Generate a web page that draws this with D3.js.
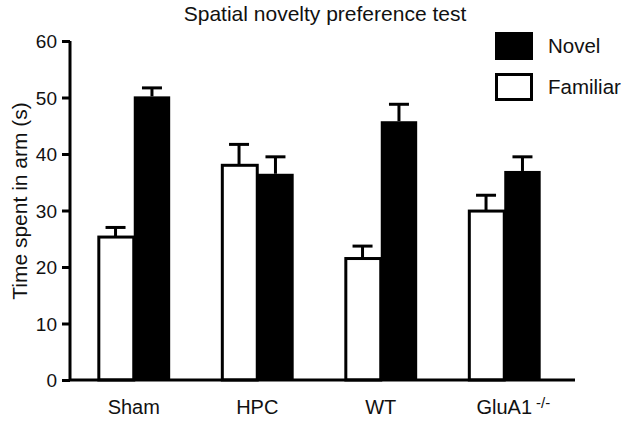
<!DOCTYPE html>
<html>
<head>
<meta charset="utf-8">
<script src="https://cdn.jsdelivr.net/npm/d3@7"></script>
<style>
  html, body { margin: 0; padding: 0; background: #fff; }
  svg { display: block; font-family: "Liberation Sans", Arial, Helvetica, sans-serif; }
</style>
</head>
<body>
<svg id="chart" width="623" height="422"></svg>
<script>
const categories = ["Sham", "HPC", "WT", "GluA1"];
const familiar = [25.3, 38.0, 21.5, 29.9];
const familiarErr = [1.7, 3.7, 2.2, 2.8];
const novel = [50.2, 36.5, 45.8, 37.0];
const novelErr = [1.5, 3.0, 3.0, 2.5];
const seriesNames = ["Familiar", "Novel"];
const yTicks = [0, 10, 20, 30, 40, 50, 60];
const title = "Spatial novelty preference test";
const yTitle = "Time spent in arm (s)";

const svg = d3.select("#chart");

const x0 = d3.scaleBand().domain(categories).range([72, 566])
  .paddingInner(0.41).paddingOuter(0.205);
const x1 = d3.scaleBand().domain(seriesNames).range([0, x0.bandwidth()]);
const y = d3.scaleLinear().domain([0, 60]).range([380, 41]);

const axisX = 70;
const sw = 3;
const FF = "Liberation Sans, Arial, sans-serif";

// title
svg.append("text").attr("x", 325).attr("y", 21).attr("text-anchor", "middle")
  .attr("font-size", 21).attr("fill", "#111").text(title);

// y axis title
svg.append("text").attr("transform", "translate(27,201) rotate(-90)")
  .attr("text-anchor", "middle").attr("font-size", 21).attr("fill", "#111").text(yTitle);

// bars
const rows = categories.map((c, i) => ({
  c,
  bars: [
    { s: "Familiar", v: familiar[i], e: familiarErr[i] },
    { s: "Novel", v: novel[i], e: novelErr[i] }
  ]
}));

const g = svg.append("g");
rows.forEach(r => {
  r.bars.forEach(b => {
    const bx = x0(r.c) + x1(b.s);
    const bw = x1.bandwidth();
    const cx = bx + bw / 2;
    g.append("line").attr("x1", cx).attr("x2", cx)
      .attr("y1", y(b.v)).attr("y2", y(b.v + b.e))
      .attr("stroke", "#000").attr("stroke-width", sw);
    g.append("line").attr("x1", cx - 10).attr("x2", cx + 10)
      .attr("y1", y(b.v + b.e)).attr("y2", y(b.v + b.e))
      .attr("stroke", "#000").attr("stroke-width", sw);
    if (b.s === "Novel") {
      g.append("rect").attr("x", bx).attr("y", y(b.v))
        .attr("width", bw).attr("height", y(0) - y(b.v)).attr("fill", "#000");
    } else {
      g.append("rect").attr("x", bx + 1.5).attr("y", y(b.v))
        .attr("width", bw - 1.5).attr("height", y(0) - y(b.v))
        .attr("fill", "#fff").attr("stroke", "#000").attr("stroke-width", sw);
    }
  });
});

// y axis
const yAxis = d3.axisLeft(y).tickValues(yTicks).tickSize(8).tickPadding(5);
const ya = svg.append("g").attr("transform", `translate(${axisX},0)`).call(yAxis);
ya.select(".domain").attr("d", `M0,${y(60)}V${y(0)}`).attr("stroke", "#000").attr("stroke-width", sw);
ya.selectAll(".tick line").attr("stroke", "#000").attr("stroke-width", sw);
ya.selectAll(".tick text").attr("font-size", 19).attr("fill", "#111")
  .attr("font-family", FF).attr("dy", "0.36em");

// x axis
const xAxis = d3.axisBottom(x0).tickSize(0).tickPadding(25).tickFormat(d => d);
const xa = svg.append("g").attr("transform", `translate(0,${y(0)})`).call(xAxis);
xa.select(".domain").attr("d", `M${axisX},0H575`).attr("stroke", "#000").attr("stroke-width", sw);
xa.selectAll(".tick text").attr("font-size", 20).attr("fill", "#111")
  .attr("font-family", FF).attr("dy", "0.71em")
  .attr("y", 20);
// superscript on GluA1
xa.selectAll(".tick").filter(d => d === "GluA1").each(function () {
  const t = d3.select(this).select("text");
  const bb = t.node().getBBox();
  d3.select(this).append("text").attr("x", bb.x + bb.width + 4).attr("y", 28)
    .attr("font-size", 15).attr("fill", "#111").attr("text-anchor", "start")
    .attr("font-family", FF).text("-/-");
});

// legend
const legend = [
  { s: "Novel", y0: 32, fill: "#000" },
  { s: "Familiar", y0: 73, fill: "#fff" }
];
legend.forEach(l => {
  if (l.fill === "#000") {
    svg.append("rect").attr("x", 495).attr("y", l.y0).attr("width", 38).attr("height", 28).attr("fill", "#000");
  } else {
    svg.append("rect").attr("x", 496.5).attr("y", l.y0 + 1.5).attr("width", 35).attr("height", 25)
      .attr("fill", "#fff").attr("stroke", "#000").attr("stroke-width", sw);
  }
  svg.append("text").attr("x", 548).attr("y", l.y0 + 21).attr("font-size", 20.5).attr("fill", "#111").text(l.s);
});
</script>
</body>
</html>
